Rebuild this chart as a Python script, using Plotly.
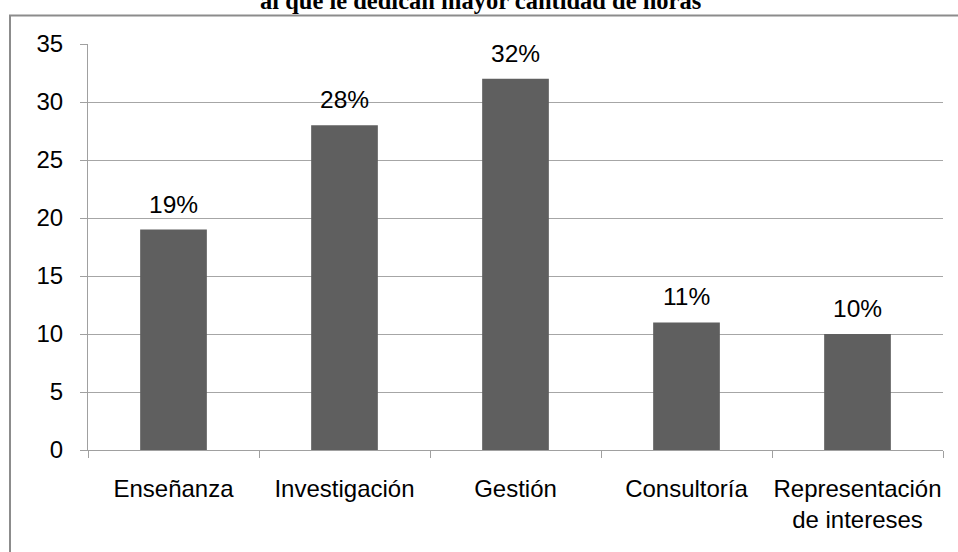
import plotly.graph_objects as go

categories = ["Enseñanza", "Investigación", "Gestión", "Consultoría", "Representación<br>de intereses"]
values = [19, 28, 32, 11, 10]
labels = ["19%", "28%", "32%", "11%", "10%"]
title_text = "al que le dedican mayor cantidad de horas"
y_ticks = [0, 5, 10, 15, 20, 25, 30, 35]

W, H = 958, 552
L, R, T, B = 88, 15, 44, 102
pw, ph = W - L - R, H - T - B

def px_x(x):
    return (x - L) / pw

def px_y(y):
    return (H - B - y) / ph

fig = go.Figure()
fig.add_trace(go.Bar(
    x=categories, y=values, marker=dict(color="#5f5f5f", line=dict(width=0)),
    width=0.39, showlegend=False, hoverinfo="skip",
))

for c, v, t in zip(categories, values, labels):
    fig.add_annotation(x=c, y=v, xref="x", yref="y", text=t, showarrow=False,
                       yanchor="bottom", yshift=10,
                       font=dict(family="Liberation Sans, Arial", size=24.5, color="#000000"))

fig.add_annotation(x=px_x(480.5), y=px_y(1), xref="paper", yref="paper", text="<b>" + title_text + "</b>",
                   showarrow=False, yanchor="middle", xanchor="center",
                   font=dict(family="Liberation Serif, Times New Roman", size=24.5, color="#000000"))

fig.add_shape(type="rect", xref="paper", yref="paper",
              x0=px_x(10), x1=px_x(1000), y0=px_y(600), y1=px_y(15.5),
              line=dict(color="#8c8c8c", width=2), fillcolor="rgba(0,0,0,0)", layer="below")

fig.update_layout(
    width=W, height=H,
    margin=dict(l=L, r=R, t=T, b=B, pad=0, autoexpand=False),
    paper_bgcolor="white", plot_bgcolor="white",
    bargap=0.61,
    font=dict(family="Liberation Sans, Arial", size=24, color="#000000"),
    xaxis=dict(
        showline=True, linecolor="#a0a0a0", linewidth=1,
        ticks="outside", tickson="boundaries", ticklen=7, tickcolor="#a0a0a0",
        showgrid=False, ticklabelstandoff=17, tickangle=0,
        tickfont=dict(size=24),
    ),
    yaxis=dict(
        range=[0, 35], tickvals=y_ticks, showgrid=True, gridcolor="#a6a6a6", gridwidth=1,
        showline=True, linecolor="#a0a0a0", linewidth=1,
        ticks="outside", ticklen=7, tickcolor="#a0a0a0", zeroline=False,
        ticklabelstandoff=12, tickfont=dict(size=24),
    ),
)

fig.write_html("out.html", config={"displayModeBar": False},
               post_script="document.body.style.margin='0';")
